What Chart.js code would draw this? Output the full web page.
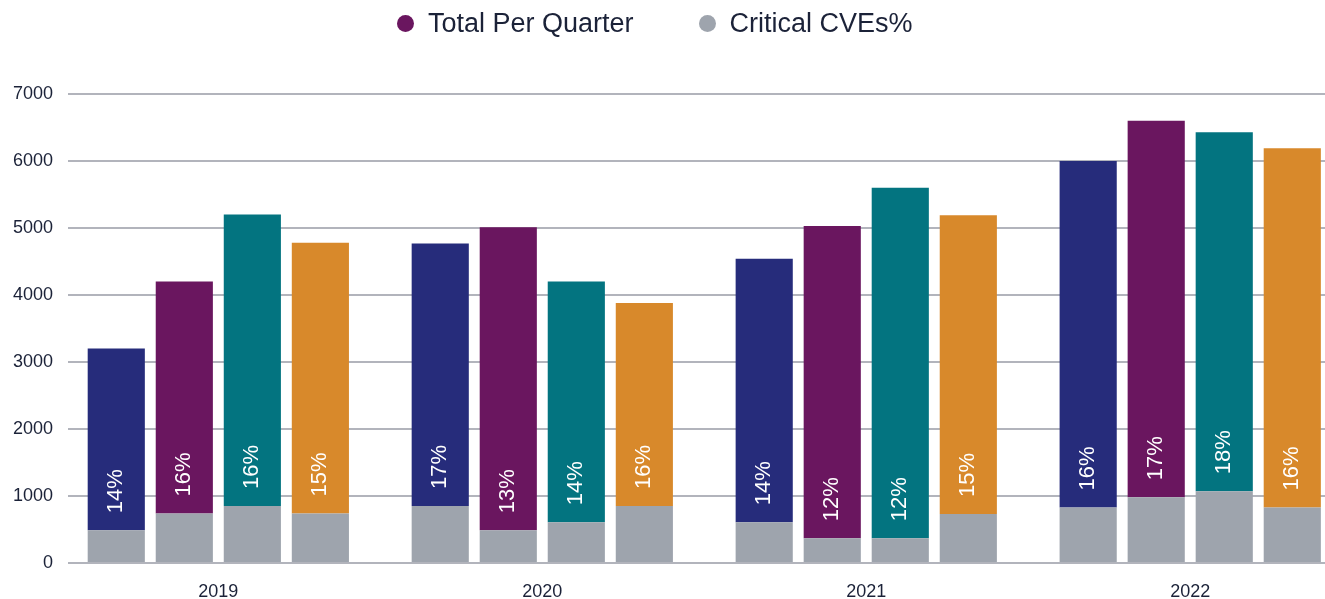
<!DOCTYPE html>
<html>
<head>
<meta charset="utf-8">
<script src="https://cdn.jsdelivr.net/npm/chart.js@4"></script>
<style>
  html, body { margin: 0; padding: 0; background: #fff; overflow: hidden; }
  .chart-wrap { position: relative; width: 1325px; height: 599px; }
  .legend {
    position: absolute; left: 397px; top: 10px; display: flex; align-items: center;
    font-family: "Liberation Sans", Arial, sans-serif; font-size: 27px; line-height: 27px; color: #1b2238;
  }
  .legend .dot { width: 17px; height: 17px; border-radius: 50%; margin-right: 14px; }
  .legend .item { display: flex; align-items: center; margin-right: 65px; }
</style>
</head>
<body>
<div class="chart-wrap">
  <div class="legend">
    <div class="item"><span class="dot" style="background:#6a165f"></span>Total Per Quarter</div>
    <div class="item"><span class="dot" style="background:#9ea4ad"></span>Critical CVEs%</div>
  </div>
  <canvas id="chart"></canvas>
</div>
<script>
const years = ['2019', '2020', '2021', '2022'];

// total CVEs per quarter, one array per quarter (index = year)
const totalQ1 = [3200, 4770, 4540, 6000];
const totalQ2 = [4200, 5010, 5030, 6600];
const totalQ3 = [5200, 4200, 5600, 6430];
const totalQ4 = [4780, 3880, 5190, 6190];

// critical CVEs (grey part)
const criticalQ1 = [490, 850, 610, 830];
const criticalQ2 = [740, 490, 370, 980];
const criticalQ3 = [850, 610, 370, 1070];
const criticalQ4 = [740, 850, 730, 830];

// percentage labels
const pctQ1 = [14, 17, 14, 16];
const pctQ2 = [16, 13, 12, 17];
const pctQ3 = [16, 14, 12, 18];
const pctQ4 = [15, 16, 15, 16];

const yTicks = [0, 1000, 2000, 3000, 4000, 5000, 6000, 7000];

const quarters = [
  { total: totalQ1, critical: criticalQ1, pct: pctQ1, color: '#262c7b' },
  { total: totalQ2, critical: criticalQ2, pct: pctQ2, color: '#6a165f' },
  { total: totalQ3, critical: criticalQ3, pct: pctQ3, color: '#037480' },
  { total: totalQ4, critical: criticalQ4, pct: pctQ4, color: '#d8892b' },
];
const grey = '#9ea4ad';
const fontFamily = '"Liberation Sans", Arial, sans-serif';

const datasets = [];
quarters.forEach((q, qi) => {
  datasets.push({
    label: 'Critical CVEs%',
    stack: 'Q' + (qi + 1),
    backgroundColor: grey,
    data: q.critical.map((v, i) => ({ x: i, y: v })),
  });
  datasets.push({
    label: 'Total Per Quarter',
    stack: 'Q' + (qi + 1),
    backgroundColor: q.color,
    pctLabels: q.pct,
    data: q.total.map((v, i) => ({ x: i, y: v - q.critical[i] })),
  });
});

// rotated % labels sitting just above the grey part
const pctPlugin = {
  id: 'pctLabels',
  afterDatasetsDraw(chart) {
    const ctx = chart.ctx;
    ctx.save();
    ctx.fillStyle = '#ffffff';
    ctx.font = '22px ' + fontFamily;
    ctx.textAlign = 'left';
    ctx.textBaseline = 'middle';
    chart.data.datasets.forEach((ds, di) => {
      if (!ds.pctLabels) return;
      chart.getDatasetMeta(di).data.forEach((bar, i) => {
        ctx.save();
        ctx.translate(bar.x, bar.base - 17);
        ctx.rotate(-Math.PI / 2);
        ctx.fillText(ds.pctLabels[i] + '%', 0, 0);
        ctx.restore();
      });
    });
    ctx.restore();
  }
};

new Chart(document.getElementById('chart'), {
  type: 'bar',
  data: { datasets },
  options: {
    responsive: true,
    maintainAspectRatio: false,
    animation: false,
    layout: { padding: { top: 94, left: 13, right: 0, bottom: 0 } },
    datasets: { bar: { categoryPercentage: 0.84, barPercentage: 0.84 } },
    plugins: { legend: { display: false }, tooltip: { enabled: false } },
    scales: {
      x: {
        type: 'linear',
        stacked: true,
        offset: false,
        min: -0.464,
        max: 3.416,
        afterBuildTicks: (scale) => { scale.ticks = years.map((y, i) => ({ value: i })); },
        afterFit: (scale) => { scale.height = 36; },
        grid: { display: false, drawTicks: false },
        border: { display: false },
        ticks: {
          padding: 18,
          autoSkip: false,
          maxRotation: 0,
          color: '#1b2238',
          font: { family: fontFamily, size: 18 },
          callback: (v) => years[v],
        },
      },
      y: {
        stacked: true,
        min: 0,
        max: 7000,
        afterBuildTicks: (scale) => { scale.ticks = yTicks.map(v => ({ value: v })); },
        afterFit: (scale) => { scale.width = 55; },
        grid: { color: '#b2b4bc', lineWidth: 2, drawTicks: false },
        border: { display: false },
        ticks: {
          padding: 15,
          color: '#1b2238',
          font: { family: fontFamily, size: 18 },
          callback: (v) => String(v),
        },
      },
    },
  },
  plugins: [pctPlugin],
});
</script>
</body>
</html>
